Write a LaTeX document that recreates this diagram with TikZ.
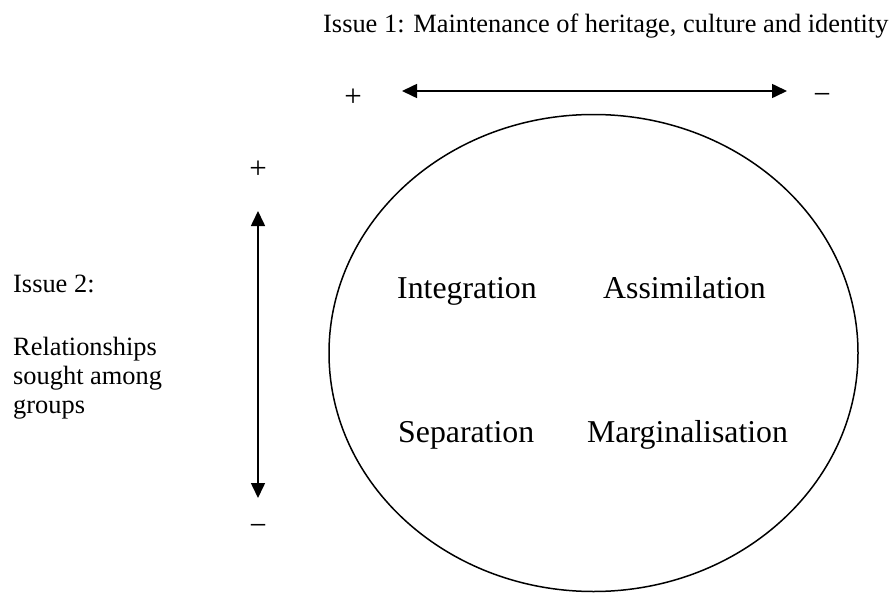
\documentclass[tikz,border=0pt]{standalone}
\usepackage{fontspec}
\setmainfont{Liberation Serif}
\usetikzlibrary{arrows.meta,shapes.geometric}
\begin{document}
\begin{tikzpicture}[x=1pt,y=-1pt,
  small/.style={font=\fontsize{26.4}{29}\selectfont, inner sep=0pt},
  big/.style={font=\fontsize{31.8}{36}\selectfont, inner sep=0pt, anchor=base west},
  sign/.style={font=\fontsize{31}{34}\selectfont, inner sep=0pt, anchor=center},
  dbl/.style={line width=1.6pt, {Triangle[length=15pt,width=14pt]}-{Triangle[length=15pt,width=14pt]}}
]
\useasboundingbox (0,0) rectangle (892,594);
% title
\node[small, anchor=base west] (issue1) at (323,33) {Issue 1: Maintenance of heritage, culture and identity};
% left texts
\node[small, anchor=base west] (issue2) at (13,292) {Issue 2:};
\node[small, anchor=base west] (rel1) at (13,355) {Relationships};
\node[small, anchor=base west] (rel2) at (13,384) {sought among};
\node[small, anchor=base west] (rel3) at (13,413) {groups};
% ellipse
\node[draw, ellipse, line width=1.5pt, minimum width=529pt, minimum height=477pt, inner sep=0pt] (circ) at (593.5,353) {};
% quadrant labels
\node[big] (integ) at (397,298) {Integration};
\node[big] (assim) at (603,298) {Assimilation};
\node[big] (sep) at (398,442) {Separation};
\node[big] (marg) at (587,442) {Marginalisation};
% horizontal axis
\node[sign] (hplus) at (353,98) {+};
\node[sign] (hminus) at (822,99) {−};
\coordinate (hl) at (402,91);
\coordinate (hr) at (787,91);
\draw[dbl] (hl) -- (hr);
% vertical axis
\node[sign] (vplus) at (258,170) {+};
\node[sign] (vminus) at (258,530) {−};
\coordinate (vt) at (258,211);
\coordinate (vb) at (258,498);
\draw[dbl] (vt) -- (vb);
\end{tikzpicture}
\end{document}
